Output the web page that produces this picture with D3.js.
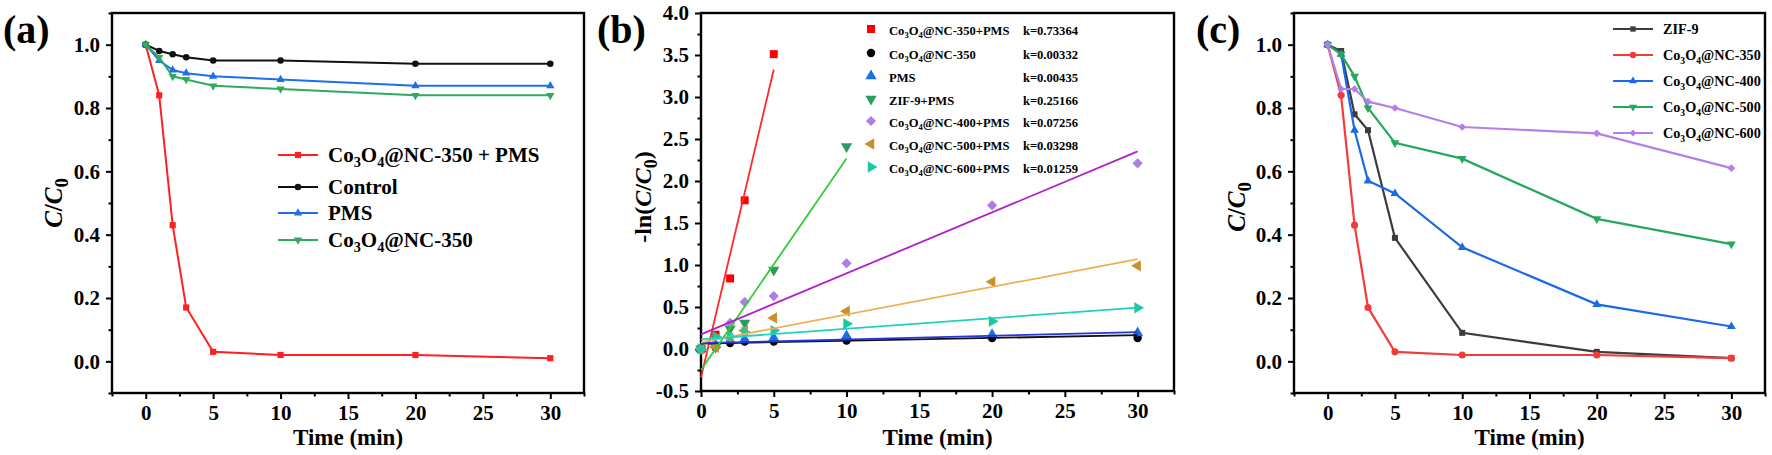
<!DOCTYPE html>
<html><head><meta charset="utf-8">
<script src="https://cdn.jsdelivr.net/npm/d3@7"></script>
<style>
html,body{margin:0;padding:0;background:#fff;}
svg text{font-family:"Liberation Serif","Times New Roman",Tinos,"DejaVu Serif","Noto Serif",serif !important;font-weight:bold;}
</style></head>
<body>
<svg id="chart" width="1772" height="455"></svg>
<script>
// ---------------- DATA ----------------
const time = [0, 1, 2, 3, 5, 10, 20, 30];

// Panel (a): C/C0
const aNames = ["Co_3O_4@NC-350 + PMS", "Control", "PMS", "Co_3O_4@NC-350"];
const aNC350PMS = [1.0, 0.84, 0.43, 0.17, 0.03, 0.02, 0.02, 0.01];
const aControl  = [1.0, 0.98, 0.97, 0.96, 0.95, 0.95, 0.94, 0.94];
const aPMS      = [1.0, 0.95, 0.92, 0.91, 0.90, 0.89, 0.87, 0.87];
const aNC350    = [1.0, 0.96, 0.90, 0.89, 0.87, 0.86, 0.84, 0.84];

// Panel (b): -ln(C/C0) with linear fits
const bNames = ["Co_3O_4@NC-350+PMS", "Co_3O_4@NC-350", "PMS", "ZIF-9+PMS",
                "Co_3O_4@NC-400+PMS", "Co_3O_4@NC-500+PMS", "Co_3O_4@NC-600+PMS"];
const bNC350PMS = [0, 0.17, 0.84, 1.77, 3.51];
const bNC350    = [0, 0.02, 0.07, 0.09, 0.09, 0.10, 0.13, 0.13];
const bPMS      = [0, 0.05, 0.10, 0.11, 0.13, 0.155, 0.17, 0.19];
const bZIF9PMS  = [0, 0.02, 0.24, 0.31, 0.94, 2.41];
const bNC400PMS = [0, 0.03, 0.31, 0.56, 0.63, 1.02, 1.71, 2.21];
const bNC500PMS = [0, 0.02, 0.13, 0.22, 0.37, 0.45, 0.80, 0.99];
const bNC600PMS = [0, 0.15, 0.15, 0.20, 0.22, 0.30, 0.33, 0.49];
const bK        = [0.73364, 0.00332, 0.00435, 0.25166, 0.07256, 0.03298, 0.01259];
const bIntercept= [-0.34, 0.065, 0.07, -0.25, 0.175, 0.08, 0.115];

// Panel (c): C/C0
const cNames = ["ZIF-9", "Co_3O_4@NC-350", "Co_3O_4@NC-400", "Co_3O_4@NC-500", "Co_3O_4@NC-600"];
const cZIF9  = [1.0, 0.98, 0.78, 0.73, 0.39, 0.09, 0.03, 0.01];
const cNC350 = [1.0, 0.84, 0.43, 0.17, 0.03, 0.02, 0.02, 0.01];
const cNC400 = [1.0, 0.97, 0.73, 0.57, 0.53, 0.36, 0.18, 0.11];
const cNC500 = [1.0, 0.97, 0.90, 0.80, 0.69, 0.64, 0.45, 0.37];
const cNC600 = [1.0, 0.86, 0.86, 0.82, 0.80, 0.74, 0.72, 0.61];

const xMajor = [0, 5, 10, 15, 20, 25, 30];
const xMinorAC = [-2.5, 2.5, 7.5, 12.5, 17.5, 22.5, 27.5, 32.5];
const xMinorB = [2.5, 7.5, 12.5, 17.5, 22.5, 27.5, 32.5];
const yMajorAC = [0.0, 0.2, 0.4, 0.6, 0.8, 1.0];
const yMinorAC = [-0.1, 0.1, 0.3, 0.5, 0.7, 0.9, 1.1];
const yMajorB = [-0.5, 0.0, 0.5, 1.0, 1.5, 2.0, 2.5, 3.0, 3.5, 4.0];
const yMinorB = [-0.25, 0.25, 0.75, 1.25, 1.75, 2.25, 2.75, 3.25, 3.75];

// ---------------- DRAW ----------------
const FONT = '"Liberation Serif","Times New Roman",Tinos,"DejaVu Serif","Noto Serif",serif';
const svg = d3.select("#chart");

function rich(textSel, str, fs) {
  const parts = []; let buf = "";
  for (let i = 0; i < str.length; i++) {
    if (str[i] === "_") { if (buf) parts.push({t: buf, s: false}); buf = ""; parts.push({t: str[i+1], s: true}); i++; }
    else buf += str[i];
  }
  if (buf) parts.push({t: buf, s: false});
  let shifted = false;
  parts.forEach(p => {
    const ts = textSel.append("tspan").text(p.t);
    if (p.s) { ts.attr("font-size", fs * 0.68).attr("dy", fs * 0.26); shifted = true; }
    else if (shifted) { ts.attr("dy", -fs * 0.26); shifted = false; }
  });
}

const sym = {
  square: d3.symbolSquare, circle: d3.symbolCircle, up: d3.symbolTriangle,
  down: d3.symbolTriangle, diamond: d3.symbolSquare, left: d3.symbolTriangle, right: d3.symbolTriangle
};
const rot = {square: 0, circle: 0, up: 0, down: 180, diamond: 45, left: -90, right: 90};
function marker(g, type, size, color, cx, cy) {
  g.append("path").attr("d", d3.symbol().type(sym[type]).size(size)())
    .attr("transform", `translate(${cx},${cy}) rotate(${rot[type]})`)
    .attr("fill", color);
}

function panel(cfg) {
  const g = svg.append("g");
  const x = d3.scaleLinear().domain(cfg.xDom).range([cfg.left, cfg.right]);
  const y = d3.scaleLinear().domain(cfg.yDom).range([cfg.bottom, cfg.top]);
  const fmtY = d => d3.format(".1f")(d).replace("−", "-");
  const xa = g.append("g").attr("transform", `translate(0,${cfg.bottom})`)
    .call(d3.axisBottom(x).tickValues(xMajor).tickSize(6).tickPadding(6).tickFormat(d3.format("d")));
  const xm = g.append("g").attr("transform", `translate(0,${cfg.bottom})`)
    .call(d3.axisBottom(x).tickValues(cfg.xMinor).tickSize(3.5).tickFormat(""));
  const ya = g.append("g").attr("transform", `translate(${cfg.left},0)`)
    .call(d3.axisLeft(y).tickValues(cfg.yMajor).tickSize(6).tickPadding(6).tickFormat(fmtY));
  const ym = g.append("g").attr("transform", `translate(${cfg.left},0)`)
    .call(d3.axisLeft(y).tickValues(cfg.yMinor).tickSize(3.5).tickFormat(""));
  [xa, xm, ya, ym].forEach(a => {
    a.attr("font-family", FONT);
    a.select(".domain").remove();
    a.selectAll("line").attr("stroke", "#000").attr("stroke-width", 2);
    a.selectAll("text").attr("font-size", 21).attr("fill", "#000").attr("font-weight", "bold");
  });
  g.append("rect").attr("x", cfg.left).attr("y", cfg.top)
    .attr("width", cfg.right - cfg.left).attr("height", cfg.bottom - cfg.top)
    .attr("fill", "none").attr("stroke", "#000").attr("stroke-width", 2.4);
  g.append("text").attr("x", cfg.letterX).attr("y", 43).attr("font-size", 40).text(cfg.letter);
  g.append("text").attr("x", (cfg.left + cfg.right) / 2).attr("y", 445)
    .attr("text-anchor", "middle").attr("font-size", 23).text("Time (min)");
  const yl = g.append("text").attr("text-anchor", "middle").attr("font-size", cfg.yLabelSize)
    .attr("transform", `translate(${cfg.yLabelX},${cfg.yLabelY}) rotate(-90)`);
  const fs = cfg.yLabelSize;
  if (cfg.ln) yl.append("tspan").text("-ln(");
  yl.append("tspan").attr("font-style", "italic").text("C");
  yl.append("tspan").text("/");
  yl.append("tspan").attr("font-style", "italic").text("C");
  yl.append("tspan").attr("font-size", fs * 0.75).attr("dy", fs * 0.25).text("0");
  if (cfg.ln) yl.append("tspan").attr("dy", -fs * 0.25).text(")");
  return {g, x, y};
}

// ---- Panel (a)
(function() {
  const P = panel({left: 112, right: 584, top: 13, bottom: 393, xDom: [-2.5, 32.5], yDom: [-0.1, 1.1],
    xMinor: xMinorAC, yMajor: yMajorAC, yMinor: yMinorAC, letter: "(a)", letterX: 3,
    yLabelX: 62, yLabelY: 203, yLabelSize: 25});
  const series = [aNC350PMS, aControl, aPMS, aNC350];
  const styles = [
    {c: "#ff1f1f", m: "square", s: 38},
    {c: "#111111", m: "circle", s: 34},
    {c: "#1f6fe8", m: "up", s: 30},
    {c: "#2faa5e", m: "down", s: 30}
  ];
  const line = d3.line().x((d, i) => P.x(time[i])).y(d => P.y(d));
  series.forEach((vals, k) => {
    const st = styles[k];
    P.g.append("path").datum(vals).attr("d", line).attr("fill", "none")
      .attr("stroke", st.c).attr("stroke-width", 2);
    vals.forEach((v, i) => marker(P.g, st.m, st.s, st.c, P.x(time[i]), P.y(v)));
  });
  const rows = [155, 187, 213, 240];
  aNames.forEach((n, k) => {
    const st = styles[k];
    P.g.append("line").attr("x1", 278).attr("x2", 318).attr("y1", rows[k]).attr("y2", rows[k])
      .attr("stroke", st.c).attr("stroke-width", 2);
    marker(P.g, st.m, st.s, st.c, 298, rows[k]);
    const t = P.g.append("text").attr("x", 328).attr("y", rows[k] + 7).attr("font-size", 21);
    rich(t, n, 21);
  });
})();

// ---- Panel (b)
(function() {
  const P = panel({left: 701, right: 1174, top: 13, bottom: 391, xDom: [0, 32.5], yDom: [-0.5, 4.0],
    xMinor: xMinorB, yMajor: yMajorB, yMinor: yMinorB, letter: "(b)", letterX: 597,
    yLabelX: 651, yLabelY: 197, yLabelSize: 24, ln: true});
  const series = [bNC350PMS, bNC350, bPMS, bZIF9PMS, bNC400PMS, bNC500PMS, bNC600PMS];
  const styles = [
    {c: "#ff0000", l: "#ff2a2a", m: "square", s: 64},
    {c: "#000000", l: "#111111", m: "circle", s: 56},
    {c: "#1a6ee8", l: "#2436d8", m: "up", s: 55},
    {c: "#2e9a62", l: "#33cc33", m: "down", s: 55},
    {c: "#b07ee0", l: "#b020c8", m: "diamond", s: 52},
    {c: "#c8902e", l: "#f0b050", m: "left", s: 55},
    {c: "#1cc8a0", l: "#22d0c0", m: "right", s: 55}
  ];
  series.forEach((vals, k) => {
    const st = styles[k];
    vals.forEach((v, i) => marker(P.g, st.m, st.s, st.c, P.x(time[i]), P.y(v)));
  });
  series.forEach((vals, k) => {
    const st = styles[k];
    const tEnd = time[vals.length - 1];
    P.g.append("line")
      .attr("x1", P.x(0)).attr("y1", P.y(bIntercept[k]))
      .attr("x2", P.x(tEnd)).attr("y2", P.y(bIntercept[k] + bK[k] * tEnd))
      .attr("stroke", st.l).attr("stroke-width", 1.8);
  });
  const rows = [30, 54, 77, 100, 122, 145, 168];
  const lfs = 12.6;
  bNames.forEach((n, k) => {
    const st = styles[k];
    marker(P.g, st.m, st.s, st.c, 871, rows[k] - 1);
    const t = P.g.append("text").attr("x", 889).attr("y", rows[k] + 4.5).attr("font-size", lfs);
    rich(t, n, lfs);
    P.g.append("text").attr("x", 1078).attr("y", rows[k] + 4.5).attr("font-size", lfs)
      .attr("text-anchor", "end").text("k=" + bK[k].toFixed(5));
  });
})();

// ---- Panel (c)
(function() {
  const P = panel({left: 1294, right: 1765, top: 13, bottom: 393, xDom: [-2.5, 32.5], yDom: [-0.1, 1.1],
    xMinor: xMinorAC, yMajor: yMajorAC, yMinor: yMinorAC, letter: "(c)", letterX: 1196,
    yLabelX: 1245, yLabelY: 207, yLabelSize: 25});
  const series = [cZIF9, cNC350, cNC400, cNC500, cNC600];
  const styles = [
    {c: "#3c3c3c", m: "square", s: 36},
    {c: "#f23b3b", m: "circle", s: 40},
    {c: "#1a6ae6", m: "up", s: 34},
    {c: "#25a85c", m: "down", s: 34},
    {c: "#b57ee8", m: "diamond", s: 30}
  ];
  const line = d3.line().x((d, i) => P.x(time[i])).y(d => P.y(d));
  series.forEach((vals, k) => {
    const st = styles[k];
    P.g.append("path").datum(vals).attr("d", line).attr("fill", "none")
      .attr("stroke", st.c).attr("stroke-width", 2.2);
    vals.forEach((v, i) => marker(P.g, st.m, st.s, st.c, P.x(time[i]), P.y(v)));
  });
  const rows = [29, 55, 81, 107, 133];
  const lfs = 14.2;
  cNames.forEach((n, k) => {
    const st = styles[k];
    P.g.append("line").attr("x1", 1613).attr("x2", 1653).attr("y1", rows[k]).attr("y2", rows[k])
      .attr("stroke", st.c).attr("stroke-width", 2.2);
    marker(P.g, st.m, st.s * 0.8, st.c, 1633, rows[k]);
    const t = P.g.append("text").attr("x", 1663).attr("y", rows[k] + 5).attr("font-size", lfs);
    rich(t, n, lfs);
  });
})();
</script>
</body></html>
